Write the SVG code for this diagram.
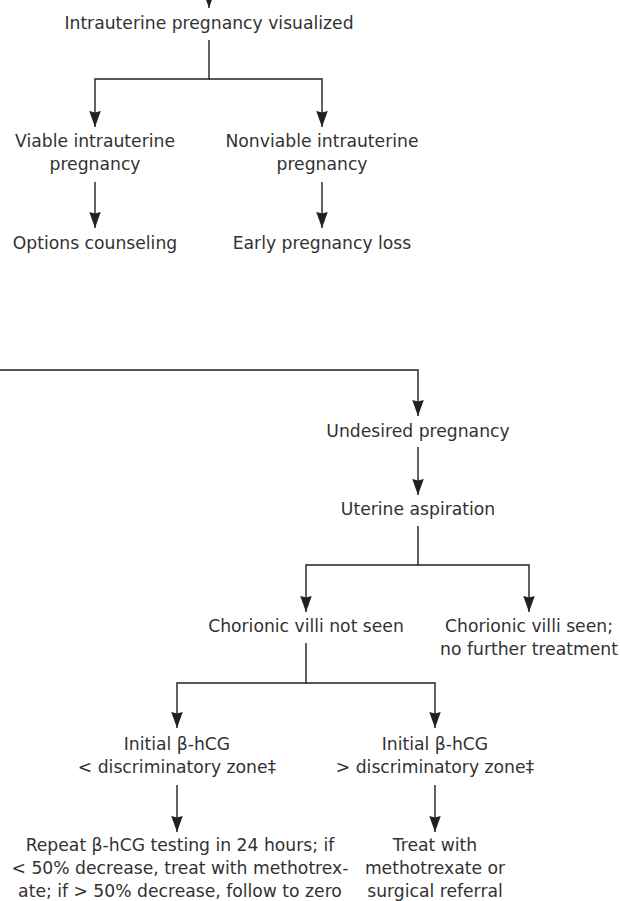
<svg xmlns="http://www.w3.org/2000/svg" width="620" height="901" viewBox="0 0 620 901">
  <style>
    .t { font-family: "DejaVu Sans", "Liberation Sans", sans-serif; font-size: 17.2px; fill: #333132; text-anchor: middle; }
    .c { fill: none; stroke: #231f20; stroke-width: 1.4; }
  </style>
  <defs>
    <marker id="ah" markerUnits="userSpaceOnUse" markerWidth="17" markerHeight="13" refX="16" refY="5.75" orient="auto">
      <path d="M0,0 L16,5.75 L0,11.5 L1.5,5.75 Z" fill="#231f20"/>
    </marker>
  </defs>
  <rect width="620" height="901" fill="#ffffff"/>

  <g id="connectors">
    <path class="c" d="M209,-20 V8" marker-end="url(#ah)"/>
    <path class="c" d="M209,40 V79 H95 V127" marker-end="url(#ah)"/>
    <path class="c" d="M209,79 H322 V127" marker-end="url(#ah)"/>
    <path class="c" d="M95,182 V228" marker-end="url(#ah)"/>
    <path class="c" d="M322,182 V228" marker-end="url(#ah)"/>
    <path class="c" d="M0,370 H418 V416" marker-end="url(#ah)"/>
    <path class="c" d="M418,447 V495" marker-end="url(#ah)"/>
    <path class="c" d="M418,526 V565 H306 V612" marker-end="url(#ah)"/>
    <path class="c" d="M418,565 H529 V612" marker-end="url(#ah)"/>
    <path class="c" d="M306,643 V683 H177 V728" marker-end="url(#ah)"/>
    <path class="c" d="M306,683 H435 V728" marker-end="url(#ah)"/>
    <path class="c" d="M177,785 V832" marker-end="url(#ah)"/>
    <path class="c" d="M435,785 V832" marker-end="url(#ah)"/>
  </g>

  <g id="n-iup">
    <text class="t" x="209" y="29">Intrauterine pregnancy visualized</text>
  </g>
  <g id="n-viable">
    <text class="t" x="95" y="147">Viable intrauterine</text>
    <text class="t" x="95" y="170">pregnancy</text>
  </g>
  <g id="n-nonviable">
    <text class="t" x="322" y="147">Nonviable intrauterine</text>
    <text class="t" x="322" y="170">pregnancy</text>
  </g>
  <g id="n-options">
    <text class="t" x="95" y="249">Options counseling</text>
  </g>
  <g id="n-loss">
    <text class="t" x="322" y="249">Early pregnancy loss</text>
  </g>
  <g id="n-undesired">
    <text class="t" x="418" y="437">Undesired pregnancy</text>
  </g>
  <g id="n-aspiration">
    <text class="t" x="418" y="515">Uterine aspiration</text>
  </g>
  <g id="n-notseen">
    <text class="t" x="306" y="632">Chorionic villi not seen</text>
  </g>
  <g id="n-seen">
    <text class="t" x="529" y="632">Chorionic villi seen;</text>
    <text class="t" x="529" y="655">no further treatment</text>
  </g>
  <g id="n-below">
    <text class="t" x="177" y="750">Initial β-hCG</text>
    <text class="t" x="177" y="773">&lt; discriminatory zone‡</text>
  </g>
  <g id="n-above">
    <text class="t" x="435" y="750">Initial β-hCG</text>
    <text class="t" x="435" y="773">&gt; discriminatory zone‡</text>
  </g>
  <g id="n-repeat">
    <text class="t" x="180" y="851">Repeat β-hCG testing in 24 hours; if</text>
    <text class="t" x="180" y="874">&lt; 50% decrease, treat with methotrex-</text>
    <text class="t" x="180" y="897">ate; if &gt; 50% decrease, follow to zero</text>
  </g>
  <g id="n-treat">
    <text class="t" x="435" y="851">Treat with</text>
    <text class="t" x="435" y="874">methotrexate or</text>
    <text class="t" x="435" y="897">surgical referral</text>
  </g>
</svg>
